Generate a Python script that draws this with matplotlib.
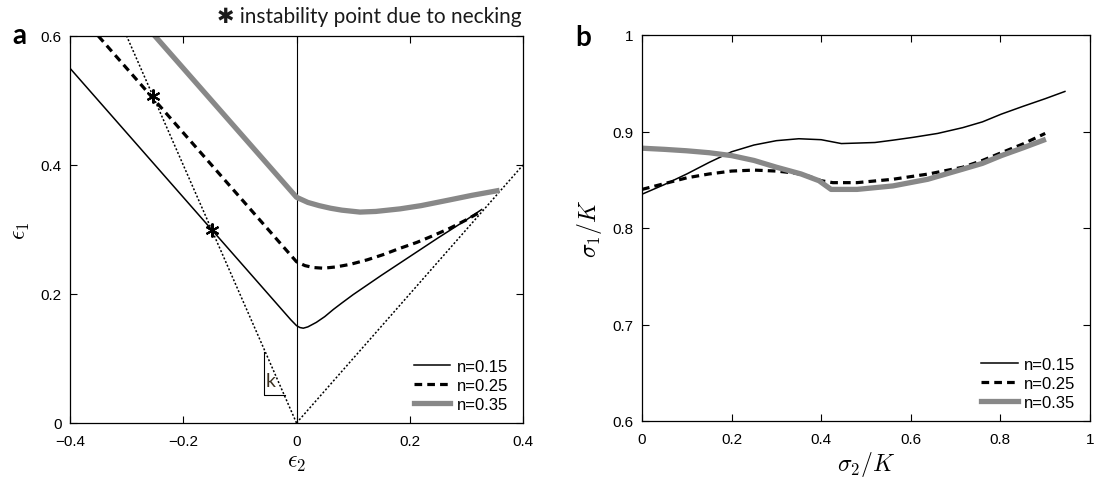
import matplotlib
matplotlib.use('Agg')
import matplotlib.pyplot as plt
import numpy as np

plt.rcParams['font.family'] = ['Liberation Sans', 'DejaVu Sans']
plt.rcParams['mathtext.fontset'] = 'cm'

# panel a : forming limit curves (eps2, eps1)
n_labels = ['n=0.15', 'n=0.25', 'n=0.35']

a_e2_015 = [-0.4, -0.01, 0.0, 0.006, 0.012, 0.02, 0.035, 0.05, 0.065, 0.08, 0.1, 0.125, 0.15, 0.2, 0.25, 0.3, 0.327]
a_e1_015 = [0.55, 0.16, 0.151, 0.148, 0.147, 0.149, 0.156, 0.165, 0.176, 0.186, 0.199, 0.214, 0.229, 0.258, 0.287, 0.315, 0.331]

a_e2_025 = [-0.35, -0.01, 0.0, 0.015, 0.03, 0.0475, 0.07, 0.095, 0.125, 0.153, 0.18, 0.2125, 0.24, 0.271, 0.3, 0.32]
a_e1_025 = [0.6, 0.26, 0.25, 0.244, 0.241, 0.240, 0.242, 0.246, 0.253, 0.261, 0.27, 0.28, 0.29, 0.302, 0.315, 0.325]

a_e2_035 = [-0.25, -0.015, 0.0, 0.02, 0.04, 0.06, 0.08, 0.112, 0.14, 0.183, 0.22, 0.271, 0.31, 0.354]
a_e1_035 = [0.6, 0.365, 0.35, 0.342, 0.337, 0.333, 0.330, 0.327, 0.328, 0.332, 0.337, 0.346, 0.353, 0.360]

# necking instability points
star_e2 = [-0.15, -0.254]
star_e1 = [0.3, 0.507]

# guide lines
guide_left_x = [0.0, -0.3]
guide_left_y = [0.0, 0.6]
guide_right_x = [0.0, 0.4]
guide_right_y = [0.0, 0.4]

# slope triangle "k"
tri_x = [-0.0574, -0.0574, -0.021]
tri_y = [0.1105, 0.0439, 0.0439]

# panel b : stress (sigma2/K, sigma1/K)
b_s2_015 = [0, 0.05, 0.1, 0.15, 0.2, 0.25, 0.3, 0.35, 0.4, 0.445, 0.48, 0.52, 0.56, 0.606, 0.66, 0.716, 0.76, 0.802, 0.85, 0.9, 0.944]
b_s1_015 = [0.835, 0.845, 0.856, 0.868, 0.879, 0.886, 0.8905, 0.8925, 0.8915, 0.8875, 0.888, 0.8886, 0.891, 0.894, 0.898, 0.904, 0.910, 0.918, 0.926, 0.934, 0.9415]

b_s2_025 = [0, 0.05, 0.1, 0.15, 0.2, 0.25, 0.3, 0.34, 0.37, 0.4, 0.426, 0.48, 0.56, 0.64, 0.716, 0.76, 0.802, 0.85, 0.9]
b_s1_025 = [0.840, 0.846, 0.852, 0.856, 0.859, 0.860, 0.859, 0.857, 0.854, 0.849, 0.847, 0.847, 0.8505, 0.856, 0.863, 0.870, 0.878, 0.887, 0.898]

b_s2_035 = [0, 0.05, 0.1, 0.15, 0.2, 0.25, 0.3, 0.355, 0.395, 0.422, 0.48, 0.56, 0.638, 0.716, 0.76, 0.802, 0.85, 0.896]
b_s1_035 = [0.8827, 0.8815, 0.880, 0.878, 0.875, 0.870, 0.863, 0.856, 0.849, 0.840, 0.840, 0.8436, 0.8505, 0.861, 0.867, 0.875, 0.883, 0.891]

styles = [dict(color='black', lw=1.1, ls='-'),
          dict(color='black', lw=2.3, ls=(0, (2.4, 1.6)), dash_capstyle='butt'),
          dict(color='#888888', lw=3.8, ls='-')]

fig = plt.figure(figsize=(10.96, 4.81), dpi=100)
ax1 = fig.add_axes([70/1096, 57/481, 453/1096, 387/481])
ax2 = fig.add_axes([642/1096, 59/481, 448/1096, 386/481])

def style_axes(ax):
    ax.tick_params(direction='in', top=True, right=True, length=5, width=0.8, labelsize=11, color='black')
    ax.tick_params(axis='x', pad=8)
    ax.tick_params(axis='y', pad=6)
    for s in ax.spines.values():
        s.set_linewidth(0.9)

# ---- panel a
ax1.plot(guide_left_x, guide_left_y, color='black', lw=1.1, ls=(0, (1.3, 1.3)))
ax1.plot(guide_right_x, guide_right_y, color='black', lw=1.1, ls=(0, (1.3, 1.3)))
ax1.plot([0, 0], [0, 0.6], color='black', lw=0.8)
ax1.plot(tri_x, tri_y, color='black', lw=0.8)
ax1.text(-0.046, 0.066, 'k', fontsize=14, family=['Lato', 'DejaVu Sans'], color='#3a3020', ha='center', va='center')

a_x = [a_e2_015, a_e2_025, a_e2_035]
a_y = [a_e1_015, a_e1_025, a_e1_035]
for xs, ys, st, lab in zip(a_x, a_y, styles, n_labels):
    ax1.plot(xs, ys, label=lab, **st)

ax1.plot(star_e2, star_e1, ls='none', marker=(6, 2, 0), markersize=10, mew=1.5, color='black')

ax1.set_xlim(-0.4, 0.4)
ax1.set_ylim(0, 0.6)
ax1.set_xticks([-0.4, -0.2, 0, 0.2, 0.4])
ax1.set_xticklabels(['\u22120.4', '\u22120.2', '0', '0.2', '0.4'])
ax1.set_yticks([0, 0.2, 0.4, 0.6])
ax1.set_yticklabels(['0', '0.2', '0.4', '0.6'])
style_axes(ax1)
ax1.set_xlabel(r'$\epsilon_2$', fontsize=17, labelpad=2)
ax1.set_ylabel(r'$\epsilon_1$', fontsize=17, labelpad=6)
ax1.legend(loc='lower right', bbox_to_anchor=(0.968, 0.028), frameon=False, fontsize=12,
           handlelength=2.2, handletextpad=0.4, labelspacing=0.25, borderpad=0, borderaxespad=0)

fig.text(522/1096, 1 - 17/481, '\u2731 instability point due to necking', fontsize=15,
         family=['Lato', 'DejaVu Sans'], ha='right', va='center', color='#1a1a1a')
fig.text(12/1096, 1 - 36/481, 'a', fontsize=20, fontweight='bold', family=['Lato', 'DejaVu Sans'],
         ha='left', va='center')

# ---- panel b
b_x = [b_s2_015, b_s2_025, b_s2_035]
b_y = [b_s1_015, b_s1_025, b_s1_035]
for xs, ys, st, lab in zip(b_x, b_y, styles, n_labels):
    ax2.plot(xs, ys, label=lab, **st)

ax2.set_xlim(0, 1)
ax2.set_ylim(0.6, 1)
ax2.set_xticks([0, 0.2, 0.4, 0.6, 0.8, 1])
ax2.set_xticklabels(['0', '0.2', '0.4', '0.6', '0.8', '1'])
ax2.set_yticks([0.6, 0.7, 0.8, 0.9, 1])
ax2.set_yticklabels(['0.6', '0.7', '0.8', '0.9', '1'])
style_axes(ax2)
ax2.set_xlabel(r'$\sigma_2/K$', fontsize=17, labelpad=2)
ax2.set_ylabel(r'$\sigma_1/K$', fontsize=17, labelpad=6)
ax2.legend(loc='lower right', bbox_to_anchor=(0.968, 0.028), frameon=False, fontsize=12,
           handlelength=2.2, handletextpad=0.4, labelspacing=0.25, borderpad=0, borderaxespad=0)
fig.text(575/1096, 1 - 38/481, 'b', fontsize=20, fontweight='bold', family=['Lato', 'DejaVu Sans'],
         ha='left', va='center')

fig.savefig('out.png', dpi=100)
